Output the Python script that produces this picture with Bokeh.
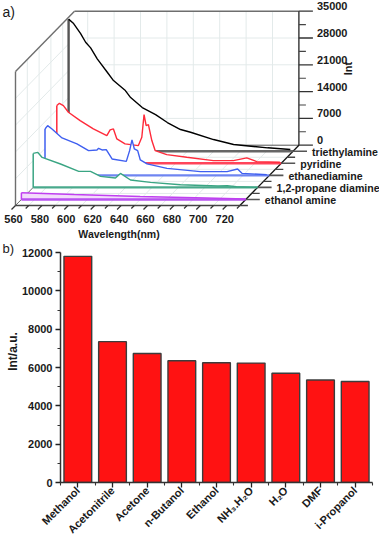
from bokeh.plotting import figure
from bokeh.layouts import column, row
from bokeh.models import Range1d, LinearAxis, FixedTicker
from bokeh.embed import file_html
from bokeh.resources import INLINE
from bokeh.core.properties import value
import math

# ---------- data: panel a ----------
names = ["ethanol amine", "1,2-propane diamine", "ethanediamine", "pyridine", "triethylamine"]
depths = [0.1, 0.3, 0.5, 0.7, 0.9]
colors = ["#c040f0", "#3aa583", "#3f5ff0", "#ff2a3a", "#000000"]
base_colors = ["#b040ee", "#35a080", "#5f78f0", "#ff3048", "#555555"]

w_ethanolamine = [560, 600, 650, 700, 730]
i_ethanolamine = [1750, 1300, 780, 390, 130]
w_propane = [560, 563.5, 566.8, 580.7, 594.5, 603.4, 611, 622.3, 626.1, 633.7, 648.9, 671.6, 700, 707, 714, 730]
i_propane = [8880, 9140, 7830, 6110, 4180, 4180, 2870, 2450, 3660, 1930, 1310, 700, 350, 440, 200, 0]
w_ethane = [560, 562, 565.3, 572.9, 584.2, 593, 599.4, 600.6, 603.2, 606.4, 610.8, 621.6, 624.1, 625.9,
            627.7, 630.2, 632.2, 637.3, 652.4, 677.7, 697.9, 705.9, 709.2, 728]
i_ethane = [12120, 12980, 12120, 9770, 8200, 6450, 6630, 7050, 6630, 6710, 4280, 3660, 6450, 9250,
            6890, 6450, 4020, 2980, 1830, 970, 970, 1670, 520, 180]
w_pyridine = [560, 562, 565, 568.8, 577.7, 587.7, 597.9, 600.4, 602.9, 605.5, 611.7, 621.8, 624.4, 626.1,
              627.7, 629.4, 632, 634.5, 643.3, 658.5, 678.6, 693.8, 703.9, 711.5, 729]
i_pyridine = [15070, 15670, 15070, 13320, 11150, 8980, 7230, 8720, 8980, 6370, 5070, 4620, 6790, 12720,
              9850, 10110, 5930, 3320, 2270, 1570, 700, 700, 1410, 440, 260]
w_triethyl = [560, 563.8, 569, 572.9, 576.7, 581.7, 589.3, 594, 603, 607, 615.8, 625.9, 634.8, 644.8,
              652.4, 669.8, 685, 710.8, 728]
i_triethyl = [34500, 33350, 30800, 28470, 27000, 24130, 20630, 18460, 15850, 14020, 11410, 9580, 7500, 5670,
              4960, 3050, 1750, 890, 440]
waves = [w_ethanolamine, w_propane, w_ethane, w_pyridine, w_triethyl]
ints = [i_ethanolamine, i_propane, i_ethane, i_pyridine, i_triethyl]

wave_ticks = [560, 580, 600, 620, 640, 660, 680, 700, 720]
int_ticks = [0, 7000, 14000, 21000, 28000, 35000]

# ---------- data: panel b ----------
solvents = ["Methanol", "Acetonitrile", "Acetone", "n-Butanol", "Ethanol", "NH\u2083.H\u2082O", "H\u2082O", "DMF", "i-Propanol"]
intensity = [11800, 7350, 6730, 6350, 6250, 6230, 5700, 5350, 5270]
bar_ticks = [0, 2000, 4000, 6000, 8000, 10000, 12000]

FONT = "Liberation Sans"
INK = "#1a1a1a"

# ---------- oblique projection of (wavelength, depth, intensity) ----------
X0, Y0 = 15.0, 205.0
PX_NM = 1.32
DX, DY = 59.0, -60.3
PX_INT = 134.0 / 35000
W0, W1 = 560, 730
Z1 = 35000

def proj(w, d, i=0):
    return (X0 + (w - W0) * PX_NM + d * DX, Y0 + d * DY - i * PX_INT)

H1 = 240
p1 = figure(width=379, height=H1, x_range=Range1d(0, 379), y_range=Range1d(H1, 0),
            output_backend="svg", toolbar_location=None, min_border=0, outline_line_color=None,
            x_axis_type=None, y_axis_type=None)
p1.grid.visible = False

def seg(a, b, color, width=1.0, alpha=1.0):
    p1.line([a[0], b[0]], [a[1], b[1]], line_color=color, line_width=width, line_alpha=alpha)

def txt(x, y, s, size=11.0, bold=True, align="left", angle=0.0, color=INK, fig=None):
    (fig or p1).text([x], [y], text=[s], text_font=value(FONT), text_font_size=f"{size}px",
                     text_font_style="bold" if bold else "normal", text_align=align,
                     text_baseline="middle", angle=angle, text_color=color)

# faint wall / floor grids
GRID = "#e3eaea"
for w in range(570, 730, 20):
    seg(proj(w, 1), proj(w, 1, Z1), GRID)
    seg(proj(w, 0), proj(w, 1), GRID)
for z in int_ticks[1:-1]:
    seg(proj(W0, 1, z), proj(W1, 1, z), GRID)
    seg(proj(W0, 0, z), proj(W0, 1, z), GRID)
for d in [0.2, 0.4, 0.6, 0.8]:
    seg(proj(W0, d), proj(W0, d, Z1), GRID)
    seg(proj(W0, d), proj(W1, d), GRID)

# wall frame
FRAME = "#6e6e6e"
seg(proj(W0, 0), proj(W0, 0, Z1), FRAME, 1.4)
seg(proj(W0, 0, Z1), proj(W0, 1, Z1), FRAME, 1.4)
seg(proj(W0, 1, Z1), proj(W1, 1, Z1), FRAME, 1.4)
seg(proj(W0, 0), proj(W0, 1), FRAME, 1.0)
seg(proj(W0, 1), proj(W1, 1), "#555555", 1.0)

# int axis
seg(proj(W1, 1), proj(W1, 1, Z1), "#222222", 1.3)
for z in int_ticks:
    x, y = proj(W1, 1, z)
    seg((x, y), (x + 14, y), "#333333", 1.3)
    txt(x + 18, y - 5, str(z), 11)
for z in range(3500, 35000, 7000):
    x, y = proj(W1, 1, z)
    seg((x, y), (x + 7, y), "#444444", 1.1)
txt(347, 68, "Int", 11, angle=math.pi / 2, align="center")

# floor axes
seg(proj(W0, 0), proj(W1, 0), "#444444", 1.5)
seg(proj(W1, 0), proj(W1, 1), "#111111", 1.3)
for w in range(W0, W1 + 1, 10):
    x, y = proj(w, 0)
    k = 4 if (w - W0) % 20 == 0 else 3
    seg((x, y), (x - k, y + k), "#333333", 1.2)
for w in wave_ticks:
    x, y = proj(w, 0)
    txt(x - 2, y + 13, str(w), 11, align="center")
txt(118.5, 233, "Wavelength(nm)", 10.5, align="center")

# depth ticks and series labels
for d in [0.0, 0.2, 0.4, 0.6, 0.8]:
    x, y = proj(W1, d)
    seg((x, y), (x + 8, y), "#444444", 1.3)

# waterfall, back to front
order = list(range(len(names)))[::-1]
for k in order:
    d = depths[k]
    pts = [proj(w, d, i) for w, i in zip(waves[k], ints[k])]
    start, end = proj(waves[k][0], d), proj(W1, d)
    xs = [start[0]] + [q[0] for q in pts] + [end[0]]
    ys = [start[1]] + [q[1] for q in pts] + [end[1]]
    fill = "#ffffff" if k else "#f3dcfb"
    p1.patch(xs, ys, fill_color=fill, line_color=None)
    seg(start, end, base_colors[k], 2.4, 0.9)
    x, y = end
    seg((x, y), (x + 14, y), "#555555", 1.6)
    seg(start, pts[0], "#555555" if colors[k] == "#000000" else colors[k], 2.4 if colors[k] == "#000000" else 1.5)
    p1.line([q[0] for q in pts], [q[1] for q in pts], line_color=colors[k], line_width=1.4)
    txt(x + 19, y + 1, names[k], 10.6)

txt(2, 11, "a)", 14, bold=False)

# ---------- panel b ----------
H2 = 534 - H1
STRIP = 18

# narrow strip left of the bar chart: panel letter and value-axis title
p3 = figure(width=STRIP, height=H2, x_range=Range1d(0, STRIP), y_range=Range1d(H2, 0),
            output_backend="svg", toolbar_location=None, min_border=0, outline_line_color=None,
            x_axis_type=None, y_axis_type=None)
p3.grid.visible = False
txt(2, 248 - H1, "b)", 13, bold=False, fig=p3)
txt(12, 351 - H1, "Int/a.u.", 12, angle=math.pi / 2, align="center", fig=p3)

p2 = figure(width=379 - STRIP, height=H2, frame_width=312, frame_height=230,
            x_range=Range1d(0.5, 9.5), y_range=Range1d(0, 12000),
            output_backend="svg", toolbar_location=None, x_axis_type=None, y_axis_type=None,
            min_border_left=60 - STRIP, min_border_right=7, min_border_top=252 - H1, min_border_bottom=52,
            outline_line_color=None)
p2.grid.visible = False
positions = list(range(1, len(solvents) + 1))
p2.vbar(x=positions, top=intensity, bottom=0, width=0.8, fill_color="#ff1212",
        line_color="#3c3c3c", line_width=1.4)

xax = LinearAxis(ticker=FixedTicker(ticks=positions, minor_ticks=[q + 0.5 for q in range(0, 10)]),
                 major_label_overrides={q: s for q, s in zip(positions, solvents)},
                 major_label_orientation=math.pi / 4)
yax = LinearAxis(ticker=FixedTicker(ticks=bar_ticks, minor_ticks=list(range(1000, 12000, 2000))))
for ax in (xax, yax):
    ax.axis_line_color = "#333333"
    ax.axis_line_width = 1.5
    ax.major_tick_line_color = "#222222"
    ax.major_tick_line_width = 1.3
    ax.minor_tick_line_color = "#333333"
    ax.minor_tick_line_width = 1.1
    ax.major_tick_in = 0
    ax.minor_tick_in = 0
    ax.major_tick_out = 5
    ax.minor_tick_out = 3
    ax.major_label_text_font = FONT
    ax.major_label_text_font_style = "bold"
    ax.major_label_text_color = INK
    ax.major_label_standoff = 3
xax.major_label_text_font_size = "11px"
xax.major_label_standoff = 1
yax.major_label_text_font_size = "11px"
p2.add_layout(xax, "below")
p2.add_layout(yax, "left")

page = column(column(p1), row(column(p3), column(p2), spacing=0), spacing=0)
open("out.html", "w").write(file_html(page, INLINE))
